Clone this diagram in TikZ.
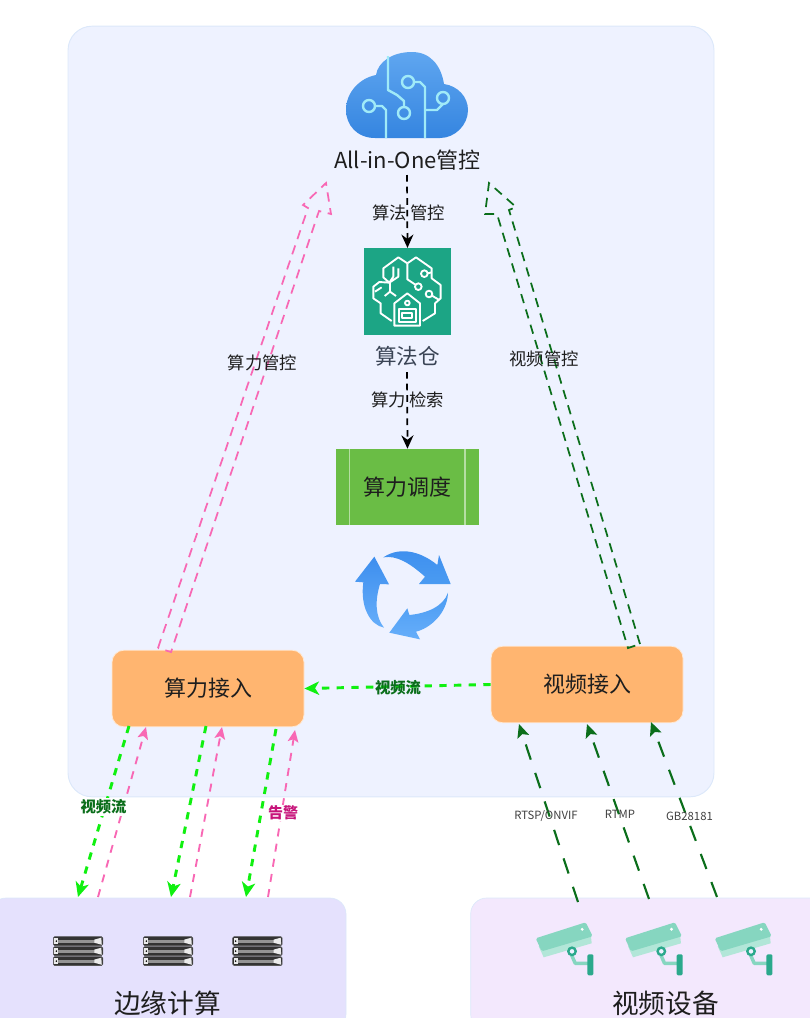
\documentclass[tikz,border=0pt]{standalone}
\usepackage{fontspec}
\setmainfont{Noto Sans CJK SC}
\usetikzlibrary{arrows.meta}
\definecolor{panel}{HTML}{EEF2FF}
\definecolor{panelb}{HTML}{DCE8FA}
\definecolor{edgebox}{HTML}{E5E1FD}
\definecolor{videobox}{HTML}{F3E8FD}
\definecolor{orangebox}{HTML}{FFB570}
\definecolor{greenbox}{HTML}{6ABD45}
\definecolor{teal}{HTML}{1CA585}
\definecolor{pinkline}{HTML}{F868B4}
\definecolor{darkgreen}{HTML}{0B6E1B}
\definecolor{brightgreen}{HTML}{10F010}
\definecolor{circuit}{HTML}{A0EAF8}
\definecolor{camlight}{HTML}{86D6C0}
\definecolor{campale}{HTML}{B2E6D8}
\definecolor{camdark}{HTML}{2BA98C}
\definecolor{inktext}{HTML}{1E1E1E}
\definecolor{cloudtop}{HTML}{5FA6F0}
\definecolor{cloudbot}{HTML}{3585E0}
\definecolor{reca}{HTML}{3D8EEE}
\definecolor{recb}{HTML}{4A9BF2}
\definecolor{recc}{HTML}{66AEFA}
\definecolor{alarm}{HTML}{C7137A}
\definecolor{slate}{HTML}{3A4455}
\tikzset{
  x=0.75pt,y=-0.75pt,
  txt/.style={font=\fontsize{13}{15}\selectfont,text=inktext,inner sep=0pt},
  bigtxt/.style={font=\fontsize{16.5}{19}\selectfont,text=inktext,inner sep=0pt},
  huge txt/.style={font=\fontsize{20}{23}\selectfont,text=inktext,inner sep=0pt},
  smalltxt/.style={font=\fontsize{8.5}{10}\selectfont,text=inktext!85,inner sep=0pt},
  flowtxt/.style={font=\fontsize{11.5}{13}\selectfont\bfseries,text=darkgreen},
  orangenode/.style={fill=orangebox,draw=white!70!orangebox,line width=0.6pt,rounded corners=9pt,minimum width=144pt,minimum height=57.5pt,bigtxt},
  blackflow/.style={draw=black,line width=1.3pt,dash pattern=on 5pt off 3.7pt,-{Stealth[length=10pt,width=9pt]}},
  greenflow/.style={draw=brightgreen,line width=2.2pt,dash pattern=on 5.5pt off 5.5pt,-{Stealth[length=11pt,width=10pt,inset=3pt]}},
  pinkflow/.style={draw=pinkline,line width=1.4pt,dash pattern=on 6pt off 5.5pt,-{Stealth[length=9pt,width=8pt,inset=2pt]}},
  darkflow/.style={draw=darkgreen,line width=1.6pt,dash pattern=on 12pt off 10.5pt,-{Stealth[length=10pt,width=9pt,inset=2pt]}},
  pinkhollow/.style={draw=pinkline,line width=1.3pt,dash pattern=on 7pt off 5pt,line join=miter},
  greenhollow/.style={draw=darkgreen,line width=1.3pt,dash pattern=on 7pt off 5pt,line join=miter},
  circ/.style={draw=circuit,line width=1.8pt,line join=round},
  white line/.style={draw=white,line width=1.4pt,line join=round},
  serverrow/.pic={
    \path[fill=black!80,draw=black!65,line width=0.4pt,rounded corners=1pt] (0,0) rectangle (49.5,8.8);
    \path[fill=black!42] (3,3) -- (42,3) -- (42,6) -- (3,6) -- cycle;
    \path[fill=white!92!black] (41,2.9) -- (48,1) -- (48.5,8) -- (41,6.1) -- cycle;
    \path[fill=white!92!black] (0.8,1.2) rectangle (5,7.6);
    \path[fill=black] (3,4.4) circle (0.9);
  },
  server/.pic={
    \pic at (0,0) {serverrow};
    \pic at (0,10) {serverrow};
    \pic at (0,20) {serverrow};
  },
  camera/.pic={
    \path[fill=campale] (3,24) -- (8,35) -- (56,21) -- (55,12) -- cycle;
    \path[fill=camlight,rounded corners=1.2pt] (0,16) -- (50,0) -- (57,14) -- (6,29) -- cycle;
    \path[fill=white] (46.5,7) circle (1.6);
    \path[draw=camlight,line width=2.6pt,line join=round] (36,33) -- (39.5,41) -- (53,41);
    \path[fill=panel,draw=camdark,line width=1.8pt] (36.3,29) circle (3.7);
    \path[fill=camdark,rounded corners=1pt] (51.7,32) rectangle (57.7,53);
  }
}
\begin{document}
\begin{tikzpicture}
\useasboundingbox (0,0) rectangle (810,1018);
\path[clip] (0,0) rectangle (810,1018);
% panels
\node[fill=panel,draw=panelb,line width=0.7pt,rounded corners=18pt,minimum width=484.5pt,minimum height=578pt,inner sep=0pt] (mainpanel) at (391,411.5) {};
\node[fill=edgebox,draw=panelb,line width=0.5pt,rounded corners=12pt,minimum width=267pt,minimum height=99pt,inner sep=0pt] (edgepanel) at (168,964) {};
\node[fill=videobox,draw=panelb,line width=0.5pt,rounded corners=12pt,minimum width=269pt,minimum height=99pt,inner sep=0pt] (videopanel) at (650,964) {};
% cloud
\path[top color=cloudtop,bottom color=cloudbot] (375,138)
  .. controls (357,138) and (346,125) .. (346,110)
  .. controls (346,92) and (360,78) .. (376,75)
  .. controls (378,62) and (392,52) .. (412,52)
  .. controls (430,52) and (441,65) .. (444,84)
  .. controls (458,86) and (468,97) .. (468,110)
  .. controls (468,125) and (455,138) .. (440,138) -- cycle;
\draw[circ] (388,56) -- (388,90) -- (397,95) -- (404,101) -- (404,107);
\draw[circ] (404,113) circle (6);
\draw[circ] (408,82) circle (6);
\draw[circ] (414,82) -- (420,82) -- (425,87) -- (425,138);
\draw[circ] (425,110) -- (437,110) -- (443,104);
\draw[circ] (443,98) circle (6);
\draw[circ] (369,106) circle (6);
\draw[circ] (375,106) -- (382,106) -- (386,110) -- (386,138);
% algorithm warehouse
\node[fill=teal,minimum width=65pt,minimum height=65pt,inner sep=0pt] (algo) at (407.5,291.5) {};
\begin{scope}[shift={(330,240)},x=0.25pt,y=-0.25pt]
\draw[white line] (232,70) -- (205,52) -- (160,85) -- (160,112) -- (178,128) -- (148,126) -- (130,140) -- (130,175) -- (152,190) -- (152,220) -- (185,243);
\draw[white line] (190,80) -- (190,110) -- (178,128) -- (205,110) -- (205,85);
\draw[white line] (135,155) -- (155,142);
\draw[white line] (180,130) -- (180,155);
\draw[white line] (164,168) -- (180,155) -- (198,168);
\draw[white line] (232,70) -- (258,52) -- (305,85) -- (305,115) -- (332,135) -- (332,175) -- (315,190) -- (315,220) -- (278,243);
\draw[white line] (232,70) -- (232,118) -- (256,134);
\draw[white line] (265,140) circle (10);
\draw[white line] (283,101) circle (10);
\draw[white line] (293,100) -- (305,97);
\draw[white line] (297,162) circle (10);
\draw[white line] (306,167) -- (328,180);
\draw[white line] (193,190) -- (232,160) -- (270,190) -- (270,257) -- (193,257) -- cycle;
\draw[white line] (207,207) rectangle (257,247);
\draw[white line] (217,219) rectangle (247,233);
\draw[white line] (232,189) circle (7);
\end{scope}
% scheduling
\node[fill=greenbox,minimum width=107.25pt,minimum height=57pt,inner sep=0pt,bigtxt] (sched) at (407.5,487) {算力调度};
\draw[draw=white!50!greenbox,line width=0.8pt] (349.5,449) -- (349.5,525);
\draw[draw=white!50!greenbox,line width=0.8pt] (465,449) -- (465,525);
% recycle
\begin{scope}[shift={(330,440)},x=0.25pt,y=-0.25pt]
\path[top color=reca,bottom color=recb] (160,352) .. controls (215,315) and (280,340) .. (322,375) -- (327,345) -- (362,432) -- (267,432) -- (285,410) .. controls (240,370) and (200,345) .. (160,352) -- cycle;
\path[top color=recb,bottom color=recc] (354,458) .. controls (352,520) and (300,565) .. (258,575) -- (270,598) -- (178,578) -- (232,505) -- (238,525) .. controls (290,520) and (340,500) .. (354,458) -- cycle;
\path[top color=reca,bottom color=recc] (162,563) .. controls (120,555) and (90,500) .. (100,427) -- (75,425) -- (133,350) -- (177,433) -- (150,432) .. controls (135,480) and (135,530) .. (162,563) -- cycle;
\end{scope}
% main nodes
\node[bigtxt] (allinone) at (407.5,160) {All-in-One管控};
\node[bigtxt,font=\fontsize{16.2}{19}\selectfont,text=slate] (algolabel) at (407.5,356) {算法仓};
\node[orangenode] (compute) at (208,688.5) {算力接入};
\node[orangenode] (videoin) at (587,684.5) {视频接入};
% named ends
\coordinate (ctrlA) at (407,175);
\coordinate (ctrlB) at (407,372);
\coordinate (pa) at (158,648); \coordinate (pb) at (308,208); \coordinate (pc) at (303,205);
\coordinate (pd) at (326,183); \coordinate (pe) at (331,214); \coordinate (pf) at (319,211); \coordinate (pg) at (171,652);
\coordinate (ga) at (640,644); \coordinate (gb) at (509,210); \coordinate (gc) at (516,207);
\coordinate (gd) at (489,183); \coordinate (ge) at (485,214); \coordinate (gf) at (497,214); \coordinate (gg) at (628,648);
\foreach \n/\x/\y in {ea/78/897,eb/171/897,ec/246/897,fa/98/897,fb/190/897,fc/268/897,ca/578/902,cb/649/899,cc/717/897,
  ta/129/726,tb/206/726,tc/276/729,ua/146/727,ub/222/727,uc/295/730,va/519/724,vb/587/724,vc/651/722}{\coordinate (\n) at (\x,\y);}
% connectors
\draw[blackflow] (ctrlA) -- (algo.north);
\draw[blackflow] (ctrlB) -- (sched.north);
\draw[pinkhollow] (pa) -- (pb) -- (pc) -- (pd) -- (pe) -- (pf) -- (pg) -- cycle;
\draw[greenhollow] (ga) -- (gb) -- (gc) -- (gd) -- (ge) -- (gf) -- (gg) -- cycle;
\draw[greenflow] (videoin.west) -- (compute.east);
\draw[greenflow] (ta) -- (ea);
\draw[greenflow] (tb) -- (eb);
\draw[greenflow] (tc) -- (ec);
\draw[pinkflow] (fa) -- (ua);
\draw[pinkflow] (fb) -- (ub);
\draw[pinkflow] (fc) -- (uc);
\draw[darkflow] (ca) -- (va);
\draw[darkflow] (cb) -- (vb);
\draw[darkflow] (cc) -- (vc);
% labels
\node[txt] (l1) at (408.5,213) {算法\hspace{2.5pt}管控};
\node[txt] (l2) at (407.5,400) {算力\hspace{2.5pt}检索};
\node[txt] (l3) at (262.5,363) {算力管控};
\node[txt] (l4) at (544,359) {视频管控};
\node[flowtxt,inner sep=0pt] (l5) at (398,687.5) {视频流};
\node[flowtxt,fill=white,inner sep=1pt] (l6) at (103.5,807) {视频流};
\node[font=\fontsize{11.25}{13}\selectfont\bfseries,text=alarm,fill=white,inner sep=1pt] (l7) at (283,813) {告警};
\node[smalltxt] (l8) at (546,816) {RTSP/ONVIF};
\node[smalltxt] (l9) at (620,814) {RTMP};
\node[smalltxt] (l10) at (689.5,816) {GB28181};
% devices
\pic at (53.3,936.7) {server};
\pic at (143.3,936.7) {server};
\pic at (232.7,936.7) {server};
\pic at (535.7,922.3) {camera};
\pic at (625,922.3) {camera};
\pic at (714.7,922.3) {camera};
\node[huge txt] (edgetext) at (167.5,1003) {边缘计算};
\node[huge txt] (videotext) at (665.5,1003) {视频设备};
\end{tikzpicture}
\end{document}
